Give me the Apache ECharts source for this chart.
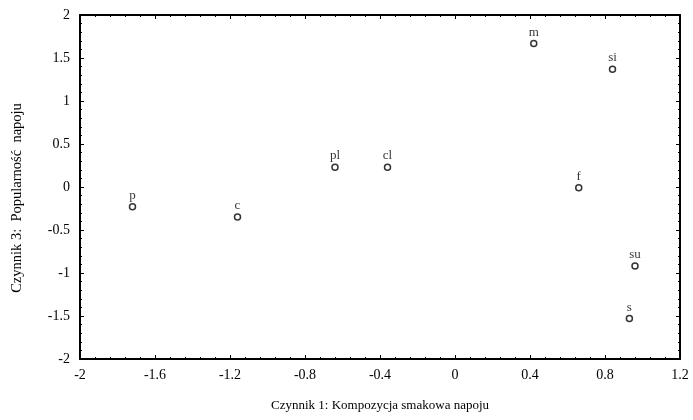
<!DOCTYPE html>
<html><head><meta charset="utf-8">
<script src="https://cdn.jsdelivr.net/npm/echarts@6/dist/echarts.min.js"></script>
<style>html,body{margin:0;padding:0;background:#fff}#c{width:693px;height:420px}</style>
</head><body><div id="c"></div>
<script>
const names = ['p','c','pl','cl','m','si','f','su','s'];
const xVals = [-1.72,-1.16,-0.64,-0.36,0.42,0.84,0.66,0.96,0.93];
const yVals = [-0.23,-0.35,0.23,0.23,1.67,1.37,-0.01,-0.92,-1.53];
const xTitle = 'Czynnik 1: Kompozycja smakowa napoju';
const yTitle = 'Czynnik 3:  Popularność  napoju';

const data = names.map((n,i)=>[xVals[i], yVals[i], n]);
const font = 'Liberation Serif';
const axisCommon = {
  axisLine:{show:true,onZero:false,lineStyle:{color:'#000',width:2}},
  axisTick:{show:true,inside:true,length:4,lineStyle:{color:'#000'}},
  minorTick:{show:true,splitNumber:5,length:2,lineStyle:{color:'#000'}},
  splitLine:{show:false}
};
const chart = echarts.init(document.getElementById('c'));
chart.setOption({
  backgroundColor:'#fff',
  animation:false,
  grid:{left:80,right:13,top:15,bottom:61},
  xAxis:[
    Object.assign({type:'value',min:-2,max:1.2,interval:0.4,position:'bottom',
      name:xTitle,nameLocation:'middle',nameGap:40,
      nameTextStyle:{fontFamily:font,fontSize:13,color:'#000'},
      axisLabel:{fontFamily:font,fontSize:14,color:'#000',margin:9,
        formatter:v=>String(Math.round(v*10)/10)}},axisCommon),
    Object.assign({type:'value',min:-2,max:1.2,interval:0.4,position:'top',
      axisLabel:{show:false}},axisCommon)
  ],
  yAxis:[
    Object.assign({type:'value',min:-2,max:2,interval:0.5,position:'left',
      name:yTitle,nameLocation:'middle',nameGap:55,
      nameTextStyle:{fontFamily:font,fontSize:14.5,color:'#000',padding:[0,22,0,0]},
      axisLabel:{fontFamily:font,fontSize:14,color:'#000',margin:10}},axisCommon),
    Object.assign({type:'value',min:-2,max:2,interval:0.5,position:'right',
      axisLabel:{show:false}},axisCommon)
  ],
  series:[{
    type:'scatter',
    symbol:'circle',symbolSize:6,
    itemStyle:{color:'#fff',borderColor:'#000',borderWidth:1.5},
    label:{show:true,position:'top',distance:1,formatter:p=>p.data[2],
      fontFamily:font,fontSize:13,color:'#000'},
    data:data
  }]
});
</script></body></html>
